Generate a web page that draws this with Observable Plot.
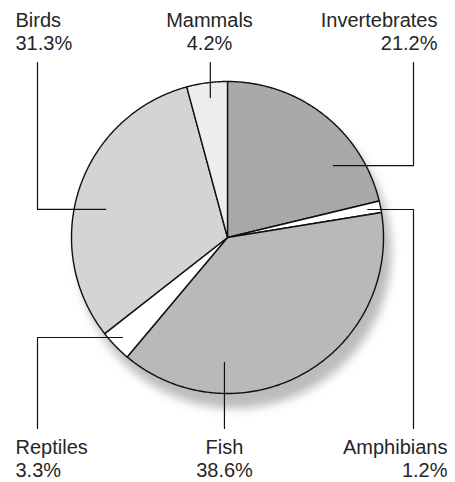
<!DOCTYPE html>
<html><head><meta charset="utf-8">
<script src="https://cdn.jsdelivr.net/npm/d3@7"></script>
<script src="https://cdn.jsdelivr.net/npm/@observablehq/plot@0.6"></script>
<style>html,body{margin:0;padding:0;background:#fff}</style>
</head><body><div id="chart"></div>
<script>
// ---- data ----
const categories = ["Invertebrates", "Amphibians", "Fish", "Reptiles", "Birds", "Mammals"];
const shares = [21.2, 1.2, 38.6, 3.3, 31.3, 4.2];

// ---- style / layout (separate from data) ----
const fills = ["#a9a9a9", "#ffffff", "#b9b9b9", "#ffffff", "#d4d4d4", "#ededed"];
const W = 455, H = 482, CX = 227, CY = 237, R = 156;
const layout = {
  Invertebrates: {tx: 437, anchor: "end", top: true, ang: 55.8, r: 128, elbow: 413},
  Amphibians:    {tx: 447, anchor: "end", top: false, ang: 78.7, r: 143, elbow: 413},
  Fish:          {tx: 224, anchor: "middle", top: false, ang: 181.4, r: 125, elbow: null},
  Reptiles:      {tx: 15, anchor: "start", top: false, ang: 226.4, r: 145, elbow: 37},
  Birds:         {tx: 15, anchor: "start", top: true, ang: 283, r: 125, elbow: 37},
  Mammals:       {tx: 209, anchor: "middle", top: true, ang: 353, r: 141, elbow: null}
};
const TOP_TEXT_Y = 11, BOTTOM_TEXT_Y = 438, TOP_LINE_Y = 62, BOTTOM_LINE_Y = 428;

// ---- pie geometry from data ----
const arcs = d3.pie().sort(null).value(d => d)(shares);
const slicePts = [];
arcs.forEach((a, i) => {
  const cat = categories[i];
  slicePts.push({cat, x: CX, y: CY});
  const n = Math.max(2, Math.ceil((a.endAngle - a.startAngle) / 0.01));
  for (let k = 0; k <= n; k++) {
    const t = a.startAngle + (a.endAngle - a.startAngle) * k / n;
    slicePts.push({cat, x: CX + R * Math.sin(t), y: CY - R * Math.cos(t)});
  }
});

// leaders
const leaderPts = [];
categories.forEach(cat => {
  const L = layout[cat];
  const t = L.ang * Math.PI / 180;
  const ax = CX + L.r * Math.sin(t), ay = CY - L.r * Math.cos(t);
  const ey = L.top ? TOP_LINE_Y : BOTTOM_LINE_Y;
  leaderPts.push({cat, x: ax, y: ay});
  if (L.elbow != null) {
    leaderPts.push({cat, x: L.elbow, y: ay});
    leaderPts.push({cat, x: L.elbow, y: ey});
  } else {
    leaderPts.push({cat, x: ax, y: ey});
  }
});

const labels = categories.map((cat, i) => ({
  cat,
  text: cat + "\n" + d3.format(".1f")(shares[i]) + "%",
  x: layout[cat].tx,
  y: layout[cat].top ? TOP_TEXT_Y : BOTTOM_TEXT_Y,
  anchor: layout[cat].anchor
}));

const textMark = (anchor) => Plot.text(labels.filter(d => d.anchor === anchor), {
  x: "x", y: "y", text: "text", textAnchor: anchor, lineAnchor: "top",
  lineHeight: 1.12, fontSize: 20, fill: "#262626"
});

const chart = Plot.plot({
  width: W, height: H,
  margin: 0,
  x: {domain: [0, W], range: [0, W], axis: null},
  y: {domain: [0, H], range: [0, H], axis: null},
  color: {domain: categories, range: fills},
  style: {fontFamily: "'Liberation Sans', Arial, sans-serif", background: "#fff", overflow: "visible"},
  marks: [
    Plot.dot([{x: CX + 7, y: CY + 14}], {x: "x", y: "y", r: R + 1, fill: "#bcbcbc", stroke: null}),
    Plot.line(slicePts, {x: "x", y: "y", z: "cat", fill: "cat", stroke: "#111", strokeWidth: 1.4, curve: "linear-closed", strokeLinejoin: "round"}),
    Plot.line(leaderPts, {x: "x", y: "y", z: "cat", stroke: "#111", strokeWidth: 1.2}),
    textMark("start"), textMark("middle"), textMark("end")
  ]
});
// soft shadow filter
const ns = "http://www.w3.org/2000/svg";
const defs = document.createElementNS(ns, "defs");
const filt = document.createElementNS(ns, "filter");
filt.setAttribute("id", "softshadow");
filt.setAttribute("filterUnits", "userSpaceOnUse");
filt.setAttribute("x", "0"); filt.setAttribute("y", "0");
filt.setAttribute("width", String(W)); filt.setAttribute("height", String(H));
const blur = document.createElementNS(ns, "feGaussianBlur");
blur.setAttribute("stdDeviation", "5");
filt.appendChild(blur); defs.appendChild(filt);
chart.insertBefore(defs, chart.firstChild);
const circ = chart.querySelector("circle");
if (circ) circ.setAttribute("filter", "url(#softshadow)");
document.getElementById("chart").appendChild(chart);
</script>
</body></html>
